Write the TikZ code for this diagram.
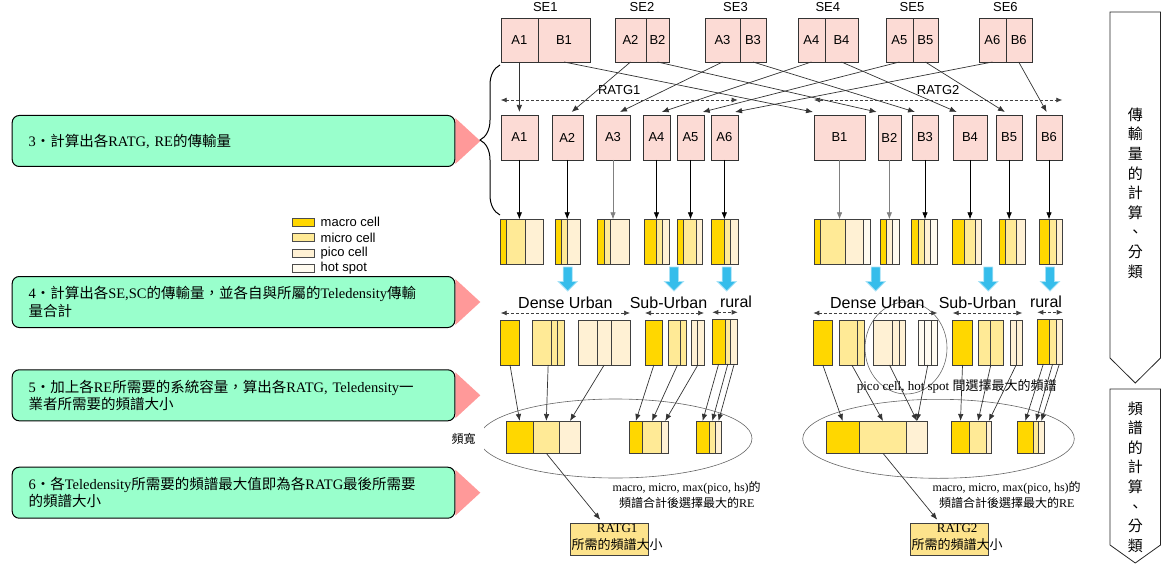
\documentclass[tikz,border=0pt]{standalone}
\usepackage{fontspec}
\setmainfont{Liberation Serif}
\setsansfont{Liberation Sans}
\newfontfamily\zhfont{Noto Sans CJK TC}
\usetikzlibrary{arrows.meta,decorations.pathreplacing,positioning,calc,backgrounds,shapes.geometric}
\newcommand{\zh}[1]{{\zhfont #1}}
\definecolor{cmacro}{HTML}{FFD700}
\definecolor{cmicro}{HTML}{FFEA96}
\definecolor{cpico}{HTML}{FFF1D4}
\definecolor{chot}{HTML}{FFFBF0}
\definecolor{sepink}{HTML}{FCDBD5}
\definecolor{callgreen}{HTML}{99FFCC}
\definecolor{callpink}{HTML}{FF9999}
\definecolor{skyblue}{HTML}{35BDEB}
\definecolor{resyellow}{HTML}{FDE38C}
% one bar of cells: name, x0, x1, ytop, ybot, segments x/x/colour
\newcommand{\cellbar}[6]{%
  \node[barframe,minimum width={(#3-#2)*1pt},minimum height={(#5-#4)*1pt}] (#1) at (#2,#4) {};
  \foreach \xa/\xb/\col [count=\idx] in {#6}
    \node[cellseg,fill=\col,minimum width={(\xb-\xa)*1pt},minimum height={(#5-#4)*1pt}] (#1-\idx) at (\xa,#4) {};}

\begin{document}
\begin{tikzpicture}
[x=1pt,y=-1pt,>={Latex[length=7pt,width=5.5pt]},
lbl/.style={font=\sffamily\fontsize{13}{15}\selectfont},
taglbl/.style={font=\sffamily\fontsize{13}{15}\selectfont,inner sep=0},
zonelbl/.style={font=\sffamily\fontsize{16}{18}\selectfont,inner sep=0},
notetxt/.style={font=\rmfamily\fontsize{12}{16}\selectfont,align=center,inner sep=0},
sebox/.style={lbl,draw=black!80,fill=sepink,anchor=north west,minimum height=44pt,inner sep=0,outer sep=0},
barframe/.style={anchor=north west,inner sep=0,outer sep=0},
cellseg/.style={draw=black!75,line width=.6pt,anchor=north west,inner sep=0,outer sep=0},
feedline/.style={->,draw=black!80,line width=.7pt},
spanline/.style={<->,draw=black!75,line width=.7pt,dash pattern=on 3pt off 2pt,>={Latex[length=6pt,width=5pt]}},
bluearr/.style={fill=skyblue,draw=skyblue!45,line width=.8pt},
bwell/.style={ellipse,draw=black!60,line width=.6pt,inner sep=0},
resbox/.style={draw=black!75,fill=resyellow,anchor=north west,minimum width=78pt,minimum height=32pt,inner sep=0},
restxt/.style={font=\rmfamily\fontsize{13}{17.5}\selectfont,align=center,anchor=north west,inner xsep=1.5pt,inner ysep=.5pt},
legbox/.style={draw=black!70,minimum width=22.6pt,minimum height=8pt,inner sep=0},
callbox/.style={draw,line width=1pt,fill=callgreen,rounded corners=7pt,anchor=north west,minimum height=51pt,text width=410pt,inner xsep=16.3pt,align=left,font=\rmfamily\fontsize{14.5}{17.5}\selectfont},
flowbox/.style={draw=black!85,line width=.8pt},
flowtxt/.style={font=\zhfont\fontsize{15}{19.6}\selectfont,align=center,inner sep=0}]
\useasboundingbox (0,0) rectangle (1161,564);

% SE boxes
\foreach \i/\xa/\xm/\xb in {1/500.7/538/590,2/615/646/669,3/705/740/766,4/797.7/825/858,5/886/912.7/938,6/979/1005.7/1031.7}{
  \node[sebox,minimum width={(\xm-\xa)*1pt}] (sa\i) at (\xa,18) {A\i};
  \node[sebox,minimum width={(\xb-\xm)*1pt}] (sb\i) at (\xm,18) {B\i};
  \path (sa\i.north west) -- (sb\i.north east) node[midway,above=6pt,lbl,inner sep=0] (se\i) {SE\i};
}

% RE boxes of each RATG
\foreach \n/\t/\xa/\xb in {a1/A1/500.7/538,a2/A2/551.7/582.7,a3/A3/596/630,a4/A4/643/670,a5/A5/677/704,a6/A6/711/737.7,b1/B1/814/865,b2/B2/877.7/901,b3/B3/911.7/938.3,b4/B4/952.7/987.3,b5/B5/996/1022.3,b6/B6/1035.7/1062.3}
  \node[sebox,minimum height=45pt,minimum width={(\xb-\xa)*1pt}] (r\n) at (\xa,115) {\t};
\draw[spanline] ([yshift=15]ra1.north west) -- ([yshift=15]ra6.north east) node[midway,above=5pt,taglbl] (ratg1) {RATG1};
\draw[spanline] ([yshift=15]rb1.north west) -- ([yshift=15]rb6.north east) node[midway,above=5pt,taglbl] (ratg2) {RATG2};
\foreach \n/\dx in {a1/0,a2/4.5,a3/7,a4/5.2,a5/12.2,a6/10.7,b1/-26.5,b2/-12.7,b3/-10,b4/-13.3,b5/-4.2,b6/-2.3}
  \draw[feedline] (s\n.south) -- ([xshift=\dx,yshift=3]r\n.north);

% traffic per RE
\cellbar{a1}{500.7}{543.3}{219.3}{264}{500.7/506.7/cmacro,506.7/525.7/cmicro,525.7/543.3/cpico}
\cellbar{a2}{555}{580.7}{219.3}{264}{555/561/cmacro,561/567.3/cmicro,567.3/580.7/cpico}
\cellbar{a3}{597.3}{629.3}{219.3}{264}{597.3/604.3/cmacro,604.3/610.7/cmicro,610.7/629.3/cpico}
\cellbar{a4}{644}{669.3}{219.3}{264}{644/656.7/cmacro,656.7/662.7/cmicro,662.7/669.3/cpico}
\cellbar{a5}{677.3}{702.7}{219.3}{264}{677.3/683.3/cmacro,683.3/696/cmicro,696/702.7/cpico}
\cellbar{a6}{711.7}{738.3}{219.3}{264}{711.7/724.3/cmacro,724.3/730.7/cmicro,730.7/738.3/cpico}
\cellbar{b1}{814.3}{870.7}{219.3}{264}{814.3/820.7/cmacro,820.7/845.7/cmicro,845.7/863.3/cpico,863.3/870.7/chot}
\cellbar{b2}{880.7}{899.3}{219.3}{264}{880.7/886/cmacro,886/892.3/cpico,892.3/899.3/chot}
\cellbar{b3}{911.7}{937.3}{219.3}{264}{911.7/918.3/cmacro,918.3/924/cmicro,924/930.7/cpico,930.7/937.3/chot}
\cellbar{b4}{952.7}{981.7}{219.3}{264}{952.7/964/cmacro,964/975.7/cmicro,975.7/981.7/cpico}
\cellbar{b5}{999}{1025}{219.3}{264}{999/1005.7/cmacro,1005.7/1016.7/cmicro,1016.7/1025/cpico}
\cellbar{b6}{1039.3}{1062.3}{219.3}{264}{1039.3/1049.3/cmacro,1049.3/1056/cmicro,1056/1062.3/cpico}
\foreach \n/\c in {a1/black,a2/black,a3/gray,a4/black,a5/black,a6/black,b1/gray,b2/gray,b3/black,b4/black,b5/black,b6/black}
  \draw[feedline,draw=\c] (r\n.south) -- (r\n.south |- \n.north);

% blue arrows
\foreach \x in {567.7,674,726.7,875.7,988.3,1050}
  \draw[bluearr] (\x-4.5,267) -- (\x+4.5,267) -- (\x+4.5,281.5) -- (\x+9.5,281.5) -- (\x,291) -- (\x-9.5,281.5) -- (\x-4.5,281.5) -- cycle;

% sums per Teledensity
\node[bwell,minimum width=82pt,minimum height=92pt] (pkcirc) at (906,348) {};
\cellbar{du1}{500.7}{519.3}{320}{365}{500.7/519.3/cmacro}
\cellbar{du2}{532.3}{564}{320}{365}{532.3/551/cmicro,551/557.3/cmicro,557.3/564/cmicro}
\cellbar{du3}{578.3}{630}{320}{365}{578.3/597.3/cpico,597.3/611/cpico,611/630/cpico}
\cellbar{su1}{645}{662.7}{320}{365}{645/662.7/cmacro}
\cellbar{su2}{668.3}{686.7}{320}{365}{668.3/680.7/cmicro,680.7/686.7/cmicro}
\cellbar{su3}{691.7}{704}{320}{365}{691.7/697.3/cpico,697.3/704/cpico}
\cellbar{ru}{712.3}{737.7}{319.3}{364}{712.3/725/cmacro,725/730.7/cmicro,730.7/737.7/cpico}
\cellbar{dv1}{813.3}{832.3}{320}{365}{813.3/832.3/cmacro}
\cellbar{dv2}{839.3}{864.3}{320}{365}{839.3/857.3/cmicro,857.3/864.3/cmicro}
\cellbar{dv3}{873.3}{905.7}{320}{365}{873.3/892.7/cpico,892.7/899/cpico,899/905.7/cpico}
\cellbar{dv4}{918.3}{937.3}{320}{365}{918.3/924.3/chot,924.3/931/chot,931/937.3/chot}
\cellbar{sv1}{952.7}{972.3}{320}{365}{952.7/972.3/cmacro}
\cellbar{sv2}{978.3}{1003.3}{320}{365}{978.3/990.7/cmicro,990.7/1003.3/cmicro}
\cellbar{sv3}{1010}{1022.3}{320}{365}{1010/1016/cpico,1016/1022.3/cpico}
\cellbar{rv}{1037.3}{1062.7}{319.3}{364}{1037.3/1049.3/cmacro,1049.3/1056/cmicro,1056/1062.7/cpico}
\foreach \a/\b/\t/\dx in {du1/du3/Dense Urban/0,su1/su3/Sub-Urban/-6,ru/ru/rural/11,dv1/dv4/Dense Urban/2,sv1/sv3/Sub-Urban/-10,rv/rv/rural/-4}
  \draw[spanline] ([yshift=7]\a.north west) -- ([yshift=7]\b.north east) node[midway,above=4pt,xshift=\dx,zonelbl] (z\a) {\t};
\node[notetxt,font=\rmfamily\fontsize{13}{16}\selectfont] (pkh) at (956.7,386) {pico cell, hot spot \zh{間選擇最大的頻譜}};

% spectrum per RATG
\node[bwell,minimum width=273pt,minimum height=79pt] (bwl) at (615.5,438.5) {};
\node[bwell,minimum width=271.6pt,minimum height=79pt] (bwr) at (938.5,438.8) {};
\node[notetxt,fill=white,inner xsep=8pt,inner ysep=6pt,anchor=east] (bw) at ([xshift=5]bwl.west) {\zh{頻寬}};
\cellbar{sl1}{506}{580.7}{421}{453.3}{506/533.3/cmacro,533.3/559.3/cmicro,559.3/580.7/cpico}
\cellbar{sl2}{629.3}{668.7}{421}{453.3}{629.3/642.3/cmacro,642.3/661.7/cmicro,661.7/668.7/cpico}
\cellbar{sl3}{696}{721.7}{421}{453.3}{696/709.3/cmacro,709.3/715.3/cmicro,715.3/721.7/cpico}
\cellbar{sr1}{826}{927.3}{421}{453.3}{826/859.3/cmacro,859.3/906.7/cmicro,906.7/927.3/cpico}
\cellbar{sr2}{951.7}{991}{421}{453.3}{951.7/969.3/cmacro,969.3/986.7/cmicro,986.7/991/cpico}
\cellbar{sr3}{1017.3}{1044}{421}{453.3}{1017.3/1033.3/cmacro,1033.3/1038.7/cmicro,1038.7/1044/cpico}
\foreach \src/\dst in {du1/sl1-1,du2/sl1-2,du3/sl1-3,su1/sl2-1,su2/sl2-2,su3/sl2-3,ru-1/sl3-1,ru-2/sl3-2,ru-3/sl3-3,dv1/sr1-1,dv2/sr1-2,dv3/sr1-3,dv4/sr1-3,sv1/sr2-1,sv2/sr2-2,sv3/sr2-3,rv-1/sr3-1,rv-2/sr3-2,rv-3/sr3-3}
  \draw[feedline] (\src.south) -- (\dst.north);

% result per RATG
\node[resbox] (res1) at (570,522.7) {};
\node[restxt] (res1t) at (res1.north west) {RATG1\\\zh{所需的頻譜大小}};
\node[resbox] (res2) at (910,522.7) {};
\node[restxt] (res2t) at (res2.north west) {RATG2\\\zh{所需的頻譜大小}};
\draw[feedline] (sl1-2.south) -- ([xshift=-9,yshift=3]res1.north);
\draw[feedline] (sr1-2.south) -- ([xshift=-12,yshift=3]res2.north);
\node[notetxt] (suml) at (686.7,495) {macro, micro, max(pico, hs)\zh{的}\\\zh{頻譜合計後選擇最大的}RE};
\node[notetxt] (sumr) at (1006.7,495) {macro, micro, max(pico, hs)\zh{的}\\\zh{頻譜合計後選擇最大的}RE};

% legend
\foreach \c/\t [count=\i] in {cmacro/macro cell,cmicro/micro cell,cpico/pico cell,chot/hot spot}{
  \node[legbox,fill=\c] (lg\i) at (303,206.6+15.4*\i) {};
  \node[taglbl,right=6pt of lg\i] (lgt\i) {\t};
}

% steps
\node[callbox] (c3) at (11.7,115) {3\zh{・計算出各}RATG, RE\zh{的傳輸量}};
\node[callbox] (c4) at (11.7,276) {4\zh{・計算出各}SE,SC\zh{的傳輸量，並各自與所屬的}Teledensity\zh{傳輸}\\\zh{量合計}};
\node[callbox] (c5) at (11.7,369.3) {5\zh{・加上各}RE\zh{所需要的系統容量，算出各}RATG, Teledensity\zh{一}\\\zh{業者所需要的頻譜大小}};
\node[callbox] (c6) at (11.7,466.7) {6\zh{・各}Teledensity\zh{所需要的頻譜最大值即為各}RATG\zh{最後所需要}\\\zh{的頻譜大小}};
\begin{scope}[on background layer]
\foreach \c in {c3,c4,c5,c6}
  \fill[callpink] ([yshift=-3]\c.north east) -- ([xshift=25]\c.east) -- ([yshift=3]\c.south east) -- cycle;
\end{scope}
\draw[decorate,decoration={brace,amplitude=20pt},line width=1pt] (500,215) -- (500,65);

% phases
\draw[flowbox] (1110,12) -- (1160.5,12) -- (1160.5,358) -- (1135.25,383) -- (1110,358) -- cycle;
\node[flowtxt] (flow1) at (1135.25,193) {傳\\輸\\量\\的\\計\\算\\、\\分\\類};
\draw[flowbox] (1110,389) -- (1160.5,389) -- (1160.5,545) -- (1135.25,563) -- (1110,545) -- cycle;
\node[flowtxt] (flow2) at (1135.25,477) {頻\\譜\\的\\計\\算\\、\\分\\類};
\end{tikzpicture}
\end{document}
